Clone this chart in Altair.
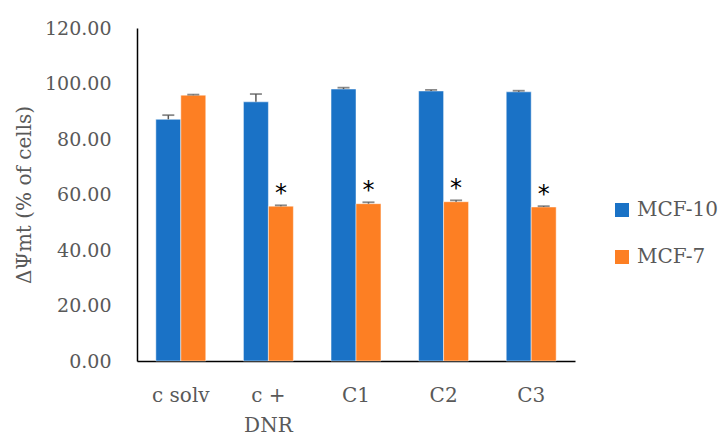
import altair as alt
import pandas as pd

# Treatments on the x axis
categories = ["c solv", "c + DNR", "C1", "C2", "C3"]
series = ["MCF-10", "MCF-7"]

# Mitochondrial membrane potential loss, % of cells (mean and upper error)
mcf10_values = [87.1, 93.4, 98.0, 97.3, 97.0]
mcf10_errors = [1.5, 2.8, 0.5, 0.4, 0.4]
mcf7_values = [95.8, 55.8, 56.7, 57.4, 55.5]
mcf7_errors = [0.2, 0.3, 0.5, 0.5, 0.3]
mcf7_significant = [False, True, True, True, True]

rows = []
for i, cat in enumerate(categories):
    rows.append({"cat": cat, "line": "MCF-10", "value": mcf10_values[i],
                 "err": mcf10_errors[i], "sig": False})
    rows.append({"cat": cat, "line": "MCF-7", "value": mcf7_values[i],
                 "err": mcf7_errors[i], "sig": mcf7_significant[i]})
df = pd.DataFrame(rows)
df["upper"] = df["value"] + df["err"]

FONT = "DejaVu Serif"
GREY = "#595959"

x_enc = alt.X(
    "cat:N", sort=categories, title=None,
    scale=alt.Scale(paddingInner=0.43, paddingOuter=0.215),
    axis=alt.Axis(
        labelAngle=0, ticks=False, domainColor="black", domainWidth=1.5,
        labelFont=FONT, labelFontSize=20, labelColor=GREY, labelPadding=24,
        labelLineHeight=30,
        labelExpr="datum.label == 'c + DNR' ? ['c +', 'DNR'] : datum.label",
    ),
)
y_scale = alt.Scale(domain=[0, 120], nice=False)
x_off = alt.XOffset("line:N", sort=series)

bars = alt.Chart(df).mark_bar(stroke="white", strokeWidth=0.8, strokeOpacity=0.6).encode(
    x=x_enc,
    xOffset=x_off,
    y=alt.Y(
        "value:Q", scale=y_scale, title="ΔΨmt (% of cells)",
        axis=alt.Axis(
            values=[0, 20, 40, 60, 80, 100, 120], format=".2f", grid=False,
            ticks=False, domainColor="black", domainWidth=1.5,
            labelFont=FONT, labelFontSize=19, labelColor=GREY, labelPadding=26,
            titleFont=FONT, titleFontSize=20, titleColor=GREY,
            titleFontWeight="normal", titlePadding=10,
        ),
    ),
    color=alt.Color(
        "line:N", sort=series,
        scale=alt.Scale(domain=series, range=["#1a72c6", "#fd7f23"]),
        legend=alt.Legend(
            title=None, orient="none", legendX=475, legendY=172,
            symbolType="square", symbolSize=196, symbolStrokeWidth=0,
            labelFont=FONT, labelFontSize=20, labelColor=GREY,
            rowPadding=27, labelOffset=5,
        ),
    ),
)

err_rules = alt.Chart(df).mark_rule(color=GREY, strokeWidth=1.5).encode(
    x=alt.X("cat:N", sort=categories),
    xOffset=x_off,
    y=alt.Y("value:Q", scale=y_scale),
    y2="upper:Q",
)

err_caps = alt.Chart(df).mark_tick(color=GREY, thickness=1.8, size=12, orient="horizontal").encode(
    x=alt.X("cat:N", sort=categories),
    xOffset=x_off,
    y=alt.Y("upper:Q", scale=y_scale),
)

stars = alt.Chart(df).transform_filter("datum.sig").mark_text(
    text="*", font="DejaVu Sans", fontSize=24,
    color="black", baseline="middle", dy=-11,
).encode(
    x=alt.X("cat:N", sort=categories),
    xOffset=x_off,
    y=alt.Y("upper:Q", scale=y_scale),
)

chart = (
    alt.layer(bars, err_rules, err_caps, stars)
    .properties(
        width=438, height=333,
        padding={"left": 137, "top": 28, "right": 149, "bottom": 76},
        autosize="none",
    )
    .configure(background="white", font=FONT)
    .configure_view(stroke="transparent", strokeWidth=0)
)

chart.save("out.html", embed_options={"renderer": "svg", "actions": False})
